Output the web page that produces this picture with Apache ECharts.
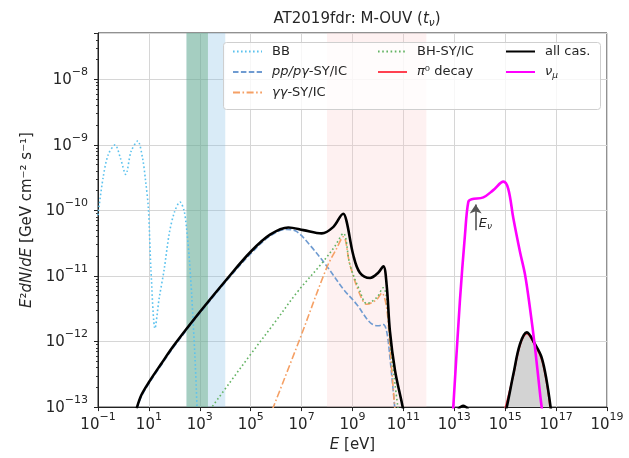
<!DOCTYPE html>
<html><head><meta charset="utf-8">
<script src="https://cdn.jsdelivr.net/npm/echarts@6/dist/echarts.min.js"></script>
<style>html,body{margin:0;padding:0;background:#fff}#c{width:629px;height:458px}</style>
</head><body><div id="c"></div>
<script>
// ---- data (log10 E [eV], log10 E^2 dN/dE [GeV cm^-2 s^-1]) ----
const bbLogE = [-1.0,-0.8,-0.6,-0.33,-0.12,0.09,0.3,0.56,0.75,0.87,0.98,1.08,1.24,1.4,1.6,1.8,2.0,2.22,2.38,2.48,2.6,2.68,2.81,2.9];
const bbLogF = [-10.07,-9.5,-9.15,-9.0,-9.2,-9.45,-9.1,-8.94,-9.2,-9.55,-9.97,-10.9,-11.8,-11.35,-10.9,-10.35,-10.03,-9.87,-10.0,-10.27,-10.8,-11.28,-12.24,-13.1];

const ppLogE = [0.52,0.7,1.0,1.5,2.0,3.0,4.1,5.0,5.76,6.41,6.8,7.33,7.99,8.64,9.16,9.69,10.01,10.21,10.34,10.47,10.67];
const ppLogF = [-13.03,-12.84,-12.64,-12.35,-12.07,-11.57,-11.05,-10.66,-10.39,-10.29,-10.32,-10.53,-10.85,-11.2,-11.43,-11.71,-11.76,-11.74,-11.84,-12.24,-13.05];

const ggLogE = [5.85,6.94,7.99,8.35,8.64,8.9,9.29,9.56,9.95,10.15,10.34,10.47,10.67];
const ggLogF = [-13.04,-11.95,-10.87,-10.6,-10.4,-10.83,-11.28,-11.43,-11.36,-11.26,-11.48,-12.09,-13.05];

const bhLogE = [3.4,4.19,4.97,6.0,6.8,7.85,8.3,8.64,8.9,9.29,9.56,9.95,10.21,10.34,10.47,10.67,10.8];
const bhLogF = [-13.04,-12.62,-12.21,-11.68,-11.26,-10.78,-10.55,-10.35,-10.83,-11.23,-11.42,-11.33,-11.18,-11.33,-11.94,-12.65,-13.05];

const pi0LogE = [14.98,15.3,15.58,15.85,16.17,16.43,16.63,16.78];
const pi0LogF = [-13.05,-12.55,-12.06,-11.88,-12.06,-12.27,-12.63,-13.05];

const allLogE1 = [0.52,0.7,1.0,1.5,2.0,3.0,4.1,5.0,5.76,6.48,7.07,7.79,8.25,8.64,8.77,9.03,9.29,9.69,10.01,10.21,10.34,10.47,10.67,10.93,11.0];
const allLogF1 = [-13.02,-12.82,-12.62,-12.33,-12.05,-11.55,-11.03,-10.63,-10.37,-10.26,-10.3,-10.35,-10.25,-10.05,-10.17,-10.68,-10.95,-11.03,-10.95,-10.85,-11.13,-11.84,-12.44,-12.92,-13.05];
const allLogE2 = [13.15,13.35,13.55];
const allLogF2 = [-13.03,-12.98,-13.03];
const allLogE3 = [15.0,15.06,15.32,15.58,15.85,16.17,16.43,16.63,16.8];
const allLogF3 = [-13.05,-13.0,-12.5,-12.04,-11.86,-12.04,-12.24,-12.6,-13.05];

const nuLogE = [12.94,12.96,13.22,13.42,13.55,13.68,14.14,14.53,14.93,15.12,15.32,15.58,15.78,15.97,16.17,16.37,16.45];
const nuLogF = [-13.1,-13.0,-11.38,-10.37,-9.87,-9.83,-9.8,-9.69,-9.56,-9.67,-10.12,-10.63,-10.98,-11.48,-12.09,-12.8,-13.05];

// E_nu marker
const arrowLogE = 13.84, arrowLogF = [-10.30, -9.91];
const enuLabelLogE = 14.22, enuLabelLogF = -10.2;

// shaded bands (eV)
const bandXray = [300, 1e4];
const bandUV = [300, 2090];
const bandGamma = [1e8, 8e11];

// axes
const xMin = 1e-1, xMax = 1e19;
const yMin = 1e-13, yMax = 5.1e-8;
const xTickExps = [-1,1,3,5,7,9,11,13,15,17,19];
const yTickExps = [-13,-12,-11,-10,-9,-8];

// ---- helpers ----
const FONT = 'DejaVu Sans';
const TXT = '#262626';
const pts = (le, lf) => le.map((x, i) => [Math.pow(10, x), Math.pow(10, lf[i])]);
const supStr = e => String(e).replace('-', '−');
const expLabel = (v, list) => {
  const l = Math.log10(v), e = Math.round(l);
  if (Math.abs(l - e) > 0.01 || list.indexOf(e) < 0) return '';
  return '{b|10}{s|' + supStr(e) + '}';
};
const tickRich = {
  b: {fontFamily: FONT, fontSize: 15, color: TXT, verticalAlign: 'bottom'},
  s: {fontFamily: FONT, fontSize: 11, color: TXT, verticalAlign: 'bottom', padding: [0, 0, 10, 0]}
};
const legRich = {
  n: {fontFamily: FONT, fontSize: 13, color: TXT},
  i: {fontFamily: FONT, fontSize: 13, color: TXT, fontStyle: 'italic'},
  sub: {fontFamily: FONT, fontSize: 9, color: TXT, fontStyle: 'italic', verticalAlign: 'top', padding: [7, 0, 0, 0]}
};
const legendNames = {
  'BB': '{n|BB}',
  'pp/pγ-SY/IC': '{i|pp/pγ}{n|-SY/IC}',
  'γγ-SY/IC': '{i|γγ}{n|-SY/IC}',
  'BH-SY/IC': '{n|BH-SY/IC}',
  'π0 decay': '{i|π}{n|⁰ decay}',
  'all cas.': '{n|all cas.}',
  'νμ': '{i|ν}{sub|μ}'
};
const mkLegend = (names, left) => ({
  data: names, left: left, top: 45, orient: 'vertical', padding: 0,
  itemGap: 7.5, itemWidth: 29, itemHeight: 14, z: 6,
  itemStyle: {opacity: 0},
  formatter: n => legendNames[n],
  textStyle: {fontFamily: FONT, fontSize: 13, color: TXT, padding: [0, 0, 0, 5], rich: legRich}
});
const lineSeries = (name, data, color, width, type, extra) => Object.assign({
  name: name, type: 'line', data: data, symbol: 'none', showSymbol: false, smooth: 0.35, z: 2,
  lineStyle: {color: color, width: width, type: type}, itemStyle: {color: color},
  emphasis: {disabled: true}, animation: false, silent: true
}, extra || {});

const chart = echarts.init(document.getElementById('c'), null, {renderer: 'canvas'});
chart.setOption({
  backgroundColor: '#fff',
  animation: false,
  title: {
    text: '{n|AT2019fdr: M-OUV (}{i|t}{sub|ν}{n|)}',
    left: 352, top: 5, textAlign: 'center',
    textStyle: {fontWeight: 'normal', rich: {
      n: {fontFamily: FONT, fontSize: 15, color: TXT, fontWeight: 'normal'},
      i: {fontFamily: FONT, fontSize: 15, color: TXT, fontStyle: 'italic', fontWeight: 'normal'},
      sub: {fontFamily: FONT, fontSize: 10.5, color: TXT, fontStyle: 'italic', fontWeight: 'normal', verticalAlign: 'top', padding: [8, 0, 0, 0]}
    }}
  },
  grid: {left: 98, right: 22, top: 33, bottom: 48, show: true, borderColor: '#222', borderWidth: 1, backgroundColor: 'transparent'},
  xAxis: {
    type: 'log', logBase: 10, min: xMin, max: xMax, interval: 2,
    name: '{i|E}{n| [eV]}', nameLocation: 'middle', nameGap: 28,
    nameTextStyle: {rich: {
      n: {fontFamily: FONT, fontSize: 15, color: TXT},
      i: {fontFamily: FONT, fontSize: 15, color: TXT, fontStyle: 'italic'}
    }},
    axisLine: {lineStyle: {color: '#222', width: 1}},
    axisTick: {show: true, inside: false, length: 4, lineStyle: {color: '#222'}},
    axisLabel: {margin: 5, formatter: v => expLabel(v, xTickExps), rich: tickRich, showMinLabel: true, showMaxLabel: true},
    splitLine: {show: true, lineStyle: {color: '#d6d6d6', width: 1}},
    minorTick: {show: false}
  },
  yAxis: {
    type: 'log', logBase: 10, min: yMin, max: yMax, interval: 1,
    name: '{i|E}{n|²}{i|dN}{n|/}{i|dE}{n| [GeV cm⁻² s⁻¹]}', nameLocation: 'middle', nameGap: 60,
    nameTextStyle: {rich: {
      n: {fontFamily: FONT, fontSize: 15, color: TXT},
      i: {fontFamily: FONT, fontSize: 15, color: TXT, fontStyle: 'italic'}
    }},
    axisLine: {lineStyle: {color: '#222', width: 1}},
    axisTick: {show: true, inside: false, length: 4, lineStyle: {color: '#222'}},
    axisLabel: {margin: 10, padding: [0, 0, 4, 0], formatter: v => expLabel(v, yTickExps), rich: tickRich, showMaxLabel: false},
    splitLine: {show: true, lineStyle: {color: '#d6d6d6', width: 1}},
    minorTick: {show: true, splitNumber: 9, length: 2, lineStyle: {color: '#333'}}
  },
  legend: [
    mkLegend(['BB', 'pp/pγ-SY/IC', 'γγ-SY/IC'], 232),
    mkLegend(['BH-SY/IC', 'π0 decay'], 377),
    mkLegend(['all cas.', 'νμ'], 505)
  ],
  graphic: [{
    type: 'rect', left: 223, top: 42, z: 5, silent: true,
    shape: {width: 377, height: 67, r: 3},
    style: {fill: 'rgba(255,255,255,0.8)', stroke: '#cfcfcf', lineWidth: 1}
  }],
  series: [
    {
      type: 'line', name: 'bands', data: [], z: 1, silent: true, animation: false,
      markArea: {
        silent: true,
        data: [
          [{xAxis: bandXray[0], itemStyle: {color: 'rgba(130,190,228,0.30)'}}, {xAxis: bandXray[1]}],
          [{xAxis: bandUV[0], itemStyle: {color: 'rgba(92,168,120,0.42)'}}, {xAxis: bandUV[1]}],
          [{xAxis: bandGamma[0], itemStyle: {color: 'rgba(250,195,195,0.24)'}}, {xAxis: bandGamma[1]}]
        ]
      }
    },
    lineSeries('BB', pts(bbLogE, bbLogF), '#5bc2ee', 1.6, [1.6, 2.4], {smooth: 0.3}),
    lineSeries('pp/pγ-SY/IC', pts(ppLogE, ppLogF), '#6f9bd1', 1.6, [5.5, 2.4]),
    lineSeries('γγ-SY/IC', pts(ggLogE, ggLogF), '#f5a065', 1.6, [7, 2.5, 1.6, 2.5]),
    lineSeries('BH-SY/IC', pts(bhLogE, bhLogF), '#63b363', 1.6, [1.6, 2.6]),
    lineSeries('π0 decay', pts(pi0LogE, pi0LogF), '#ff4050', 1.8, 'solid',
      {areaStyle: {color: '#d3d3d3', opacity: 1, origin: 'start'}}),
    lineSeries('all cas.', pts(allLogE1, allLogF1), '#000', 2.6, 'solid'),
    lineSeries('all cas.', pts(allLogE2, allLogF2), '#000', 2.6, 'solid'),
    lineSeries('all cas.', pts(allLogE3, allLogF3), '#000', 2.6, 'solid'),
    lineSeries('νμ', pts(nuLogE, nuLogF), '#ff00ff', 2.6, 'solid', {
      markLine: {
        silent: true, symbol: ['none', 'arrow'], symbolSize: 9, animation: false,
        lineStyle: {color: '#555', width: 1.6, type: 'solid'}, label: {show: false},
        data: [[{coord: [Math.pow(10, arrowLogE), Math.pow(10, arrowLogF[0])]},
                {coord: [Math.pow(10, arrowLogE), Math.pow(10, arrowLogF[1])]}]]
      },
      markPoint: {
        silent: true, animation: false, symbol: 'rect', symbolSize: 1,
        itemStyle: {color: 'rgba(0,0,0,0)'},
        data: [{coord: [Math.pow(10, enuLabelLogE), Math.pow(10, enuLabelLogF)]}],
        label: {show: true, position: 'inside', formatter: '{i|E}{sub|ν}', rich: {
          i: {fontFamily: FONT, fontSize: 13, color: TXT, fontStyle: 'italic'},
          sub: {fontFamily: FONT, fontSize: 9, color: TXT, fontStyle: 'italic', verticalAlign: 'top', padding: [7, 0, 0, 0]}
        }}
      }
    })
  ]
});
</script>
</body></html>
